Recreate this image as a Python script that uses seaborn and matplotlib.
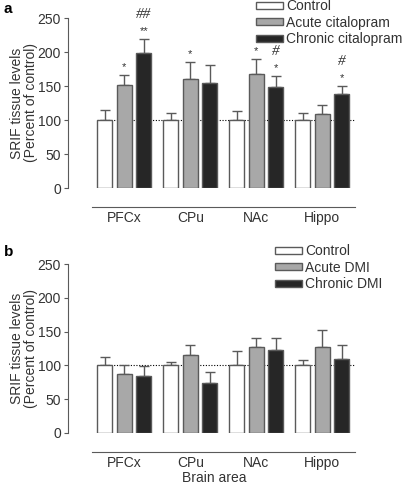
import numpy as np
import pandas as pd
import matplotlib
matplotlib.use("Agg")
import matplotlib.pyplot as plt
import seaborn as sns

areas = ["PFCx", "CPu", "NAc", "Hippo"]

# panel a: citalopram
cit_groups = ["Control", "Acute citalopram", "Chronic citalopram"]
cit_control = [100, 100, 100, 100]
cit_control_err = [15, 10, 13, 11]
cit_acute = [152, 160, 167, 108.5]
cit_acute_err = [14, 25, 22, 13.5]
cit_chronic = [198, 154, 148, 138]
cit_chronic_err = [21, 27, 17, 12]
cit_acute_star = ["*", "*", "*", ""]
cit_chronic_star = ["**", "", "*", "*"]
cit_chronic_hash = ["##", "", "#", "#"]

# panel b: desipramine
dmi_groups = ["Control", "Acute DMI", "Chronic DMI"]
dmi_control = [100, 100, 100, 100]
dmi_control_err = [12.5, 5, 21.5, 8.5]
dmi_acute = [88, 115, 127, 127.5]
dmi_acute_err = [12, 15, 13, 24.5]
dmi_chronic = [84, 74.5, 123.5, 109.5]
dmi_chronic_err = [15, 16, 16.5, 20]

colors = ["#ffffff", "#a8a8a8", "#262626"]
edge = "#5a5a5a"
txt = "#333333"

sns.set_style("ticks")
plt.rcParams["font.family"] = ["Liberation Sans", "DejaVu Sans"]
plt.rcParams["text.color"] = txt
plt.rcParams["axes.labelcolor"] = txt
plt.rcParams["xtick.color"] = txt
plt.rcParams["ytick.color"] = txt

W, H = 405, 488
fig = plt.figure(figsize=(W / 100, H / 100), dpi=100)


def px_axes(x0, y0, x1, y1):
    # pixel box (top-left origin) -> figure axes
    return fig.add_axes([x0 / W, 1 - y1 / H, (x1 - x0) / W, (y1 - y0) / H])


def draw_panel(ax, groups, series, errors):
    df = pd.DataFrame({
        "area": np.tile(areas, len(groups)),
        "group": np.repeat(groups, len(areas)),
        "value": np.concatenate(series),
    })
    ax.hlines(100, -0.42, 3.48, colors="black", linestyles=(0, (1, 1.5)),
              linewidth=0.8, zorder=0.5)
    sns.barplot(data=df, x="area", y="value", hue="group", hue_order=groups,
                palette=colors, width=0.886, gap=0.23, errorbar=None,
                edgecolor=edge, linewidth=1.0, saturation=1, legend=False,
                ax=ax, zorder=2)
    bars = list(ax.containers)
    tops = []
    for cont, vals, errs in zip(bars, series, errors):
        xs = [p.get_x() + p.get_width() / 2 for p in cont.patches]
        ax.errorbar(xs, vals, yerr=[np.zeros(len(errs)), errs], fmt="none",
                    ecolor=edge, elinewidth=1.0, capsize=3.4, capthick=1.0,
                    zorder=1.5)
        tops.append((xs, np.array(vals) + np.array(errs)))
    ax.set_xlim(-0.853, 3.571)
    ax.set_ylim(0, 250)
    ax.set_yticks([0, 50, 100, 150, 200, 250])
    ax.spines["top"].set_visible(False)
    ax.spines["right"].set_visible(False)
    ax.spines["left"].set_color(edge)
    ax.spines["bottom"].set_color(edge)
    ax.spines["bottom"].set_position(("outward", 13.5))
    ax.spines["bottom"].set_bounds(-0.49, 3.495)
    ax.tick_params(axis="y", length=3, width=0.8, color=edge, labelsize=10, pad=2)
    ax.tick_params(axis="x", length=0, labelsize=10, pad=3)
    ax.set_ylabel("SRIF tissue levels\n(Percent of control)", fontsize=10,
                  linespacing=1.0)
    ax.yaxis.set_label_coords(-0.103, 0.5)
    ax.legend(handles=[c.patches[0] for c in bars], labels=groups,
              loc="upper left", frameon=False,
              fontsize=10, handlelength=1.95, handleheight=0.4,
              handletextpad=0.22, labelspacing=0.18, borderpad=0,
              borderaxespad=0)
    return tops


ax_a = px_axes(68, 18, 360, 188)
tops_a = draw_panel(ax_a, cit_groups,
                    [cit_control, cit_acute, cit_chronic],
                    [cit_control_err, cit_acute_err, cit_chronic_err])
ax_a.get_legend().set_bbox_to_anchor((256 / W, 1 + 1 / H), transform=fig.transFigure)
ax_a.set_xlabel("")

for (xs, ys), stars in zip(tops_a[1:], [cit_acute_star, cit_chronic_star]):
    for x, y, s in zip(xs, ys, stars):
        if s:
            ax_a.text(x, y + 12, s, ha="center", va="center", fontsize=8,
                      clip_on=False)
xs, ys = tops_a[2]
for x, y, s in zip(xs, ys, cit_chronic_hash):
    if s:
        ax_a.text(x, y + 36, s, ha="center", va="center", fontsize=11,
                  style="italic", family="Liberation Serif", clip_on=False)

ax_b = px_axes(68, 264, 360, 433)
draw_panel(ax_b, dmi_groups,
           [dmi_control, dmi_acute, dmi_chronic],
           [dmi_control_err, dmi_acute_err, dmi_chronic_err])
ax_b.get_legend().set_bbox_to_anchor((275 / W, 1 - 244 / H), transform=fig.transFigure)
ax_b.set_xlabel("Brain area", fontsize=10, labelpad=1)

fig.text(4 / W, 1 - 9 / H, "a", fontsize=11, fontweight="bold", va="center", color="black")
fig.text(4 / W, 1 - 252 / H, "b", fontsize=11, fontweight="bold", va="center", color="black")

fig.savefig("out.png", dpi=100)
